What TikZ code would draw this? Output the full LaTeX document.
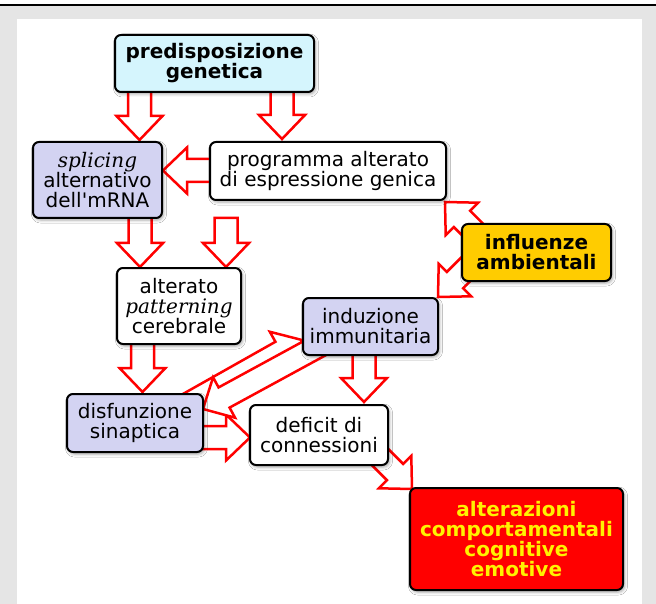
\documentclass[tikz,border=0pt]{standalone}
\usepackage{fontspec}
\setmainfont{DejaVu Sans}
\newfontfamily\dvserif{DejaVu Serif}
\usetikzlibrary{calc,shadows.blur}
\definecolor{predfill}{RGB}{213,245,253}
\definecolor{lav}{RGB}{211,211,242}
\definecolor{gold}{RGB}{255,204,0}
\definecolor{bgrey}{RGB}{229,229,229}
\def\sw{11.5pt}
\def\hw{23pt}
\def\hl{24pt}
\tikzset{
  blockarr/.style={draw=red, fill=white, line width=2.5pt, line join=miter},
  box/.style={draw=black, line width=2pt, rounded corners=6pt, align=center,
    inner sep=0pt, font=\fontsize{20}{20}\selectfont,
    blur shadow={shadow xshift=1.5pt, shadow yshift=-2pt, shadow blur radius=3pt, shadow opacity=35}},
}
\newcommand\barrow[3]{%
  \coordinate (#1c) at ($(#3)!\hl!(#2)$);
  \draw[blockarr] ($(#2)!\sw!90:(#3)$) -- ($(#1c)!\sw!90:(#3)$) -- ($(#1c)!\hw!90:(#3)$) -- (#3)
    -- ($(#1c)!\hw!-90:(#3)$) -- ($(#1c)!\sw!-90:(#3)$) -- ($(#2)!\sw!-90:(#3)$) -- cycle;
}
\begin{document}
\begin{tikzpicture}[x=1pt,y=-1pt]
\useasboundingbox (0,0) rectangle (656,604);
\fill[white] (0,0) rectangle (656,604);
\fill[bgrey] (0,5) rectangle (656,604);
\fill[white] (17,19) rectangle (642,604);
\draw[line width=2.5pt] (0,5) -- (656,5);
% arrow end points
\coordinate (t1) at (139.5,88);  \coordinate (h1) at (139.5,140);
\coordinate (t2) at (282,88);    \coordinate (h2) at (282,139);
\coordinate (t3) at (214,170.5); \coordinate (h3) at (163,170.5);
\coordinate (t4) at (140,214);   \coordinate (h4) at (140,267);
\coordinate (t5) at (226,218);   \coordinate (h5) at (226,267);
\coordinate (t6) at (142.5,340); \coordinate (h6) at (142.5,392);
\coordinate (t7) at (364,351);   \coordinate (h7) at (364,402);
\coordinate (t8) at (199,437.5); \coordinate (h8) at (250,437.5);
\coordinate (tA) at (185,406);   \coordinate (hA) at (302,340);
\coordinate (tB) at (326,342);   \coordinate (hB) at (203,409);
\coordinate (tC) at (482,239);   \coordinate (hC) at (445,202);
\coordinate (tD) at (475,260);   \coordinate (hD) at (438,297);
\coordinate (tE) at (376,453);   \coordinate (hE) at (412,489);
\barrow{a1}{t1}{h1}
\barrow{a2}{t2}{h2}
\barrow{a3}{t3}{h3}
\barrow{a4}{t4}{h4}
\barrow{a5}{t5}{h5}
\barrow{a6}{t6}{h6}
\barrow{a7}{t7}{h7}
\barrow{a8}{t8}{h8}
\barrow{aA}{tA}{hA}
\barrow{aB}{tB}{hB}
\barrow{aC}{tC}{hC}
\barrow{aD}{tD}{hD}
\barrow{aE}{tE}{hE}
% boxes
\node[box, fill=predfill, minimum width=199pt, minimum height=57pt, font=\fontsize{20}{20}\selectfont\bfseries]
  (pred) at (214.5,63.5) {predisposizione\\genetica};
\node[box, fill=lav, minimum width=129pt, minimum height=76pt]
  (spl) at (97.5,180) {{\dvserif\itshape splicing}\\alternativo\\dell\textquotesingle mRNA};
\node[box, fill=white, minimum width=236pt, minimum height=58pt]
  (prog) at (328,171) {programma alterato\\di espressione genica};
\node[box, fill=gold, minimum width=149pt, minimum height=57pt, font=\fontsize{20}{20}\selectfont\bfseries]
  (amb) at (536.5,252.5) {influenze\\ambientali};
\node[box, fill=white, minimum width=124pt, minimum height=76pt]
  (pat) at (179,306) {alterato\\{\dvserif\itshape patterning}\\cerebrale};
\node[box, fill=lav, minimum width=135pt, minimum height=57pt]
  (imm) at (370.5,326.5) {induzione\\immunitaria};
\node[box, fill=lav, minimum width=136pt, minimum height=58pt]
  (dis) at (135,423) {disfunzione\\sinaptica};
\node[box, fill=white, minimum width=138pt, minimum height=60pt]
  (def) at (319,435) {deficit di\\connessioni};
\node[box, fill=red, minimum width=213pt, minimum height=102pt, text=yellow, font=\fontsize{20}{20}\selectfont\bfseries]
  (alt) at (516.5,539) {alterazioni\\comportamentali\\cognitive\\emotive};
\end{tikzpicture}
\end{document}
